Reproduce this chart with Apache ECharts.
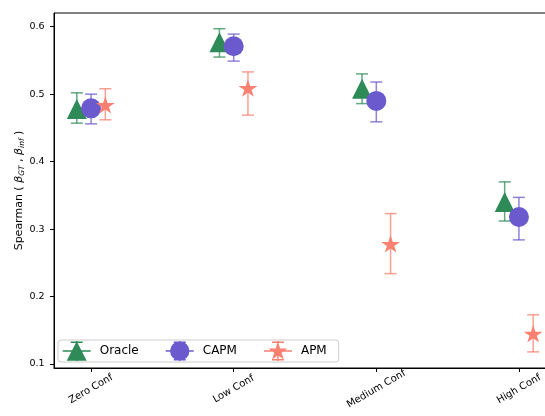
<!DOCTYPE html>
<html>
<head>
<meta charset="utf-8">
<script src="https://cdn.jsdelivr.net/npm/echarts@6/dist/echarts.min.js"></script>
<style>
html,body{margin:0;padding:0;background:#fff;}
#chart{width:545px;height:416px;}
</style>
</head>
<body>
<div id="chart"></div>
<script>
// ---- data ----
const categories = ['Zero Conf', 'Low Conf', 'Medium Conf', 'High Conf'];
const yTicks = [0.1, 0.2, 0.3, 0.4, 0.5, 0.6];

const oracleMean = [0.478, 0.577, 0.508, 0.340];
const oracleLow  = [0.457, 0.555, 0.486, 0.312];
const oracleHigh = [0.502, 0.597, 0.530, 0.370];

const capmMean = [0.479, 0.571, 0.490, 0.318];
const capmLow  = [0.456, 0.549, 0.459, 0.284];
const capmHigh = [0.500, 0.589, 0.518, 0.347];

const apmMean = [0.484, 0.509, 0.278, 0.145];
const apmLow  = [0.462, 0.469, 0.234, 0.118];
const apmHigh = [0.508, 0.533, 0.323, 0.173];

// ---- styling ----
const FONT = 'DejaVu Sans';
const groupOffset = { Oracle: -0.1, CAPM: 0, APM: 0.1 };
const colors = { Oracle: '#2e8b57', CAPM: '#6a5acd', APM: '#fa8072' };
const starPath = 'path://M10 0 L12.245 6.91 L19.511 6.91 L13.633 11.18 L15.878 18.09 L10 13.82 L4.122 18.09 L6.367 11.18 L0.489 6.91 L7.755 6.91 Z';

const baseIcon = 'M0 9.3H28V10.7H0Z M13.3 0H14.7V20H13.3Z M8 0.6H20V2H8Z M8 18H20V19.4H8Z ';
const legendIcons = {
  Oracle: 'path://' + baseIcon + 'M14 0.3L24 19.7H4Z',
  CAPM: 'path://' + baseIcon + 'M4.3 10 A9.7 9.7 0 1 1 23.7 10 A9.7 9.7 0 1 1 4.3 10 Z',
  APM: 'path://' + baseIcon + 'M14 0.5 L16.245 7.41 L23.511 7.41 L17.633 11.68 L19.878 18.59 L14 14.32 L8.122 18.59 L10.367 11.68 L4.489 7.41 L11.755 7.41 Z'
};

function points(name, mean) {
  return mean.map((v, i) => [i + groupOffset[name], v]);
}
function bars(name, low, high) {
  return low.map((l, i) => [i + groupOffset[name], l, high[i]]);
}
function errSeries(name, low, high) {
  return {
    type: 'custom',
    name: name + ' err',
    data: bars(name, low, high),
    silent: true,
    renderItem: function (params, api) {
      const x = api.value(0);
      const lo = api.coord([x, api.value(1)]);
      const hi = api.coord([x, api.value(2)]);
      const cap = 6;
      const st = { stroke: colors[name], lineWidth: 1.5, opacity: 0.75 };
      return {
        type: 'group',
        children: [
          { type: 'line', shape: { x1: lo[0], y1: lo[1], x2: hi[0], y2: hi[1] }, style: st },
          { type: 'line', shape: { x1: hi[0] - cap, y1: hi[1], x2: hi[0] + cap, y2: hi[1] }, style: st },
          { type: 'line', shape: { x1: lo[0] - cap, y1: lo[1], x2: lo[0] + cap, y2: lo[1] }, style: st }
        ]
      };
    }
  };
}
function markSeries(name, mean, symbol, size) {
  return {
    type: 'scatter',
    name: name,
    data: points(name, mean),
    symbol: symbol,
    symbolSize: size,
    symbolKeepAspect: true,
    itemStyle: { color: colors[name], opacity: 1 },
    emphasis: { disabled: true }
  };
}

const chart = echarts.init(document.getElementById('chart'), null, { renderer: 'canvas' });
chart.setOption({
  animation: false,
  textStyle: { fontFamily: FONT },
  grid: {
    left: 54, top: 13, width: 502, height: 355,
    outerBoundsMode: 'none', containLabel: false,
    show: true, borderColor: '#000', borderWidth: 1, backgroundColor: 'transparent'
  },
  xAxis: {
    type: 'value',
    min: -0.26, max: 3.26,
    splitLine: { show: false },
    axisLine: { show: true, onZero: false, lineStyle: { color: '#000', width: 1 } },
    axisTick: { show: true, length: 4, lineStyle: { color: '#000' }, customValues: [0, 1, 2, 3] },
    axisLabel: {
      customValues: [0, 1, 2, 3],
      formatter: v => categories[Math.round(v)] || '',
      rotate: 30, align: 'center', verticalAlign: 'middle', margin: 21,
      fontSize: 10, color: '#000', fontFamily: FONT
    }
  },
  yAxis: {
    type: 'value',
    min: 0.0941, max: 0.6203,
    splitLine: { show: false },
    axisLine: { show: true, onZero: false, lineStyle: { color: '#000', width: 1 } },
    axisTick: { show: true, length: 4, lineStyle: { color: '#000' }, customValues: yTicks },
    axisLabel: {
      customValues: yTicks,
      formatter: v => v.toFixed(1),
      margin: 9.5, fontSize: 9.5, color: '#000', fontFamily: FONT
    },
    name: 'Spearman ( {b|β}{s|GT} , {b|β}{s|inf} )',
    nameLocation: 'middle',
    nameRotate: 90,
    nameGap: 27,
    nameMoveOverlap: false,
    nameTextStyle: {
      fontSize: 11, color: '#000', fontFamily: FONT, lineHeight: 16,
      rich: {
        b: { fontSize: 11, fontStyle: 'italic', fontFamily: FONT, color: '#000', lineHeight: 16 },
        s: { fontSize: 7.5, fontStyle: 'italic', fontFamily: FONT, color: '#000', lineHeight: 16, padding: [6, 0, 0, 0] }
      }
    }
  },
  legend: {
    left: 58, top: 340,
    orient: 'horizontal',
    padding: [1, 12, 1, 4.7],
    itemWidth: 28, itemHeight: 20, itemGap: 27,
    backgroundColor: 'rgba(255,255,255,0.8)',
    borderColor: '#cccccc', borderWidth: 1, borderRadius: 3,
    selectedMode: false,
    textStyle: { fontSize: 12, color: '#000', fontFamily: FONT, padding: [0, 0, 0, 4] },
    data: [
      { name: 'Oracle', icon: legendIcons.Oracle },
      { name: 'CAPM', icon: legendIcons.CAPM },
      { name: 'APM', icon: legendIcons.APM }
    ]
  },
  series: [
    errSeries('Oracle', oracleLow, oracleHigh),
    markSeries('Oracle', oracleMean, 'triangle', [20, 20]),
    errSeries('CAPM', capmLow, capmHigh),
    markSeries('CAPM', capmMean, 'circle', 20),
    errSeries('APM', apmLow, apmHigh),
    markSeries('APM', apmMean, starPath, [19, 18])
  ]
});
</script>
</body>
</html>
